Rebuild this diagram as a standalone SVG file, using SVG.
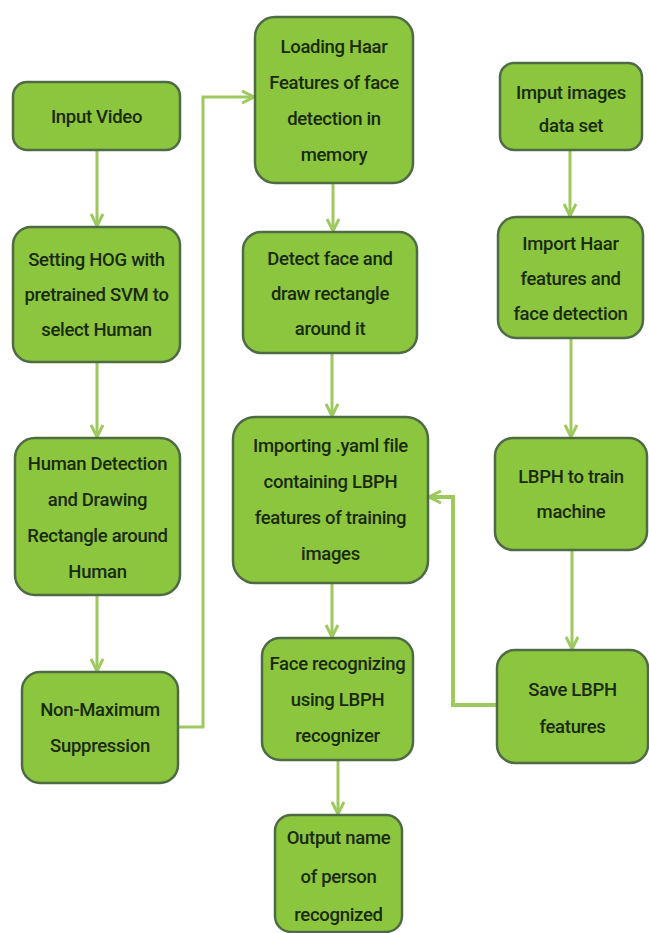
<svg xmlns="http://www.w3.org/2000/svg" width="649" height="933" viewBox="0 0 649 933">
<defs>
<marker id="arr" viewBox="0 0 14 14" refX="13" refY="7" markerWidth="14" markerHeight="14" markerUnits="userSpaceOnUse" orient="auto">
<path d="M1,1 L13,7 L1,13" fill="none" stroke="#9ec95e" stroke-width="3"/>
</marker>
</defs>
<style>
.n rect{fill:#8cc63f;stroke:#4f6b45;stroke-width:2.5}
.n text{font-family:Roboto,"Liberation Sans",Arial,sans-serif;font-size:18.5px;font-weight:500;letter-spacing:-0.3px;fill:#1a2a0c;text-anchor:middle}
.c path{fill:none;stroke:#9ec95e;stroke-width:3;marker-end:url(#arr)}
</style>
<rect width="649" height="933" fill="#ffffff"/>
<g class="c" id="connectors">
<path d="M97,150 V226"/>
<path d="M97,362 V437"/>
<path d="M97,595 V671"/>
<path d="M178,727 H203 V97 H254"/>
<path d="M333,183 V231"/>
<path d="M332,353 V416"/>
<path d="M332,583 V637"/>
<path d="M338,760 V814"/>
<path d="M570,150 V216"/>
<path d="M571,338 V437"/>
<path d="M572,550 V649"/>
<path d="M497,705 H453 V497 H429" style="stroke-width:4"/>
</g>
<g class="n" id="input-video"><rect x="13" y="82" width="167" height="68" rx="14"/><text x="96.5" y="123">Input Video</text></g>
<g class="n" id="setting-hog"><rect x="13" y="227" width="167" height="135" rx="18"/><text x="96.5" y="266">Setting HOG with</text><text x="96.5" y="301">pretrained SVM to</text><text x="96.5" y="336">select Human</text></g>
<g class="n" id="human-detection"><rect x="15" y="438" width="165" height="157" rx="20"/><text x="97.5" y="470">Human Detection</text><text x="97.5" y="506">and Drawing</text><text x="97.5" y="542">Rectangle around</text><text x="97.5" y="578">Human</text></g>
<g class="n" id="non-max"><rect x="22" y="672" width="156" height="111" rx="18"/><text x="100" y="716">Non-Maximum</text><text x="100" y="752">Suppression</text></g>
<g class="n" id="loading-haar"><rect x="255" y="17" width="158" height="166" rx="20"/><text x="334" y="53">Loading Haar</text><text x="334" y="89">Features of face</text><text x="334" y="125">detection in</text><text x="334" y="161">memory</text></g>
<g class="n" id="detect-face"><rect x="243" y="232" width="174" height="121" rx="18"/><text x="330" y="265">Detect face and</text><text x="330" y="300">draw rectangle</text><text x="330" y="335">around it</text></g>
<g class="n" id="importing-yaml"><rect x="233" y="417" width="195" height="166" rx="22"/><text x="330.5" y="452">Importing .yaml file</text><text x="330.5" y="488">containing LBPH</text><text x="330.5" y="524">features of training</text><text x="330.5" y="560">images</text></g>
<g class="n" id="face-recognizing"><rect x="262" y="638" width="151" height="122" rx="18"/><text x="337.5" y="670">Face recognizing</text><text x="337.5" y="706">using LBPH</text><text x="337.5" y="742">recognizer</text></g>
<g class="n" id="output-name"><rect x="275" y="815" width="127" height="117" rx="16"/><text x="338.5" y="844">Output name</text><text x="338.5" y="883">of person</text><text x="338.5" y="921">recognized</text></g>
<g class="n" id="imput-images"><rect x="500" y="63" width="142" height="87" rx="14"/><text x="571" y="99">Imput images</text><text x="571" y="132">data set</text></g>
<g class="n" id="import-haar"><rect x="498" y="217" width="145" height="121" rx="18"/><text x="570.5" y="250">Import Haar</text><text x="570.5" y="285">features and</text><text x="570.5" y="320">face detection</text></g>
<g class="n" id="lbph-train"><rect x="495" y="438" width="152" height="112" rx="18"/><text x="571" y="483">LBPH to train</text><text x="571" y="518">machine</text></g>
<g class="n" id="save-lbph"><rect x="497" y="650" width="151" height="113" rx="18"/><text x="572.5" y="696">Save LBPH</text><text x="572.5" y="733">features</text></g>
</svg>
